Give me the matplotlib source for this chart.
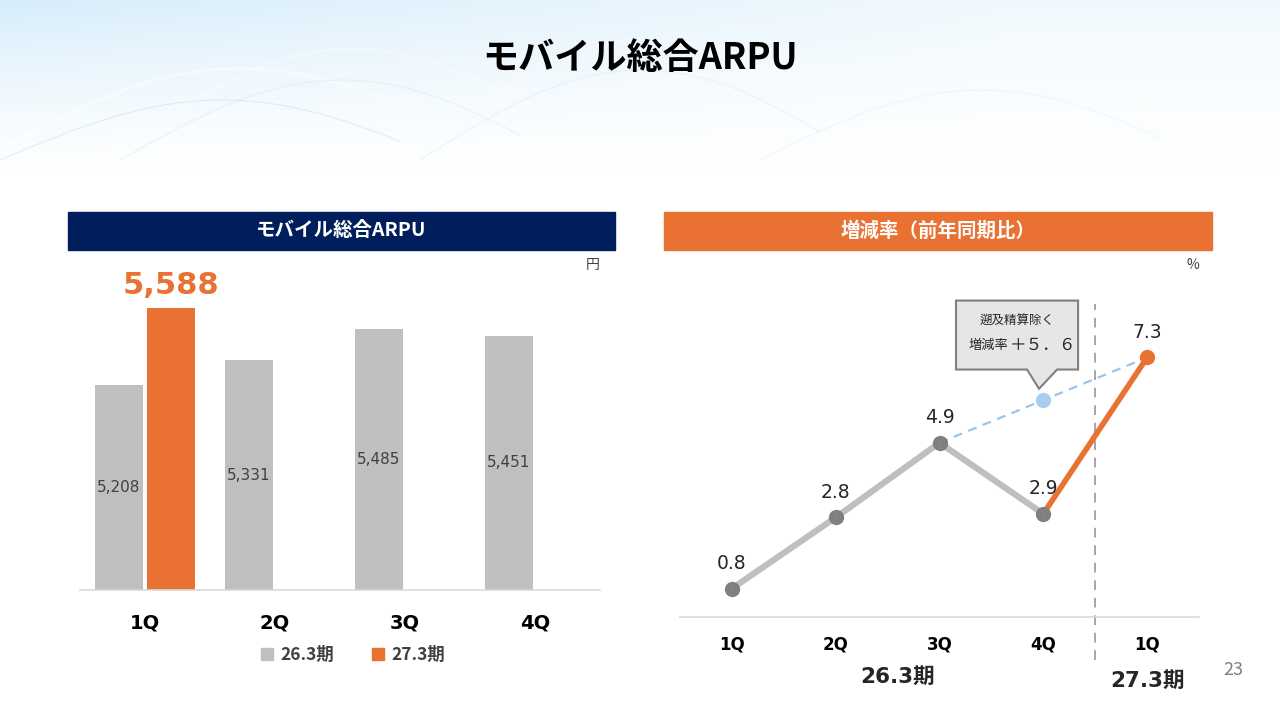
import numpy as np
import matplotlib
matplotlib.use("Agg")
import matplotlib.pyplot as plt
from matplotlib.patches import Rectangle, Polygon, Patch

plt.rcParams['font.family'] = ['Noto Sans CJK JP', 'DejaVu Sans']
LATIN = ['DejaVu Sans', 'Noto Sans CJK JP']

# data
quarters = ["1Q", "2Q", "3Q", "4Q"]
arpu_prev = [5208, 5331, 5485, 5451]      # 26.3期
arpu_curr = [5588]                        # 27.3期 (1Q only)
series_names = ["26.3期", "27.3期"]

rate_labels = ["1Q", "2Q", "3Q", "4Q", "1Q"]
rate_prev = [0.8, 2.8, 4.9, 2.9]          # 26.3期
rate_curr = 7.3                           # 27.3期 1Q
rate_adj_4q = 6.1                         # excluding retroactive settlement (light blue)
period_labels = ["26.3期", "27.3期"]

W, H = 1280, 720
NAVY = "#001e5b"
ORANGE = "#e97132"
GRAY = "#bfbfbf"
DARK = "#404040"


def px_rect(x0, y0, x1, y1):
    return [x0 / W, 1 - y1 / H, (x1 - x0) / W, (y1 - y0) / H]


fig = plt.figure(figsize=(12.8, 7.2), dpi=100)

# background wash at the top
bg = fig.add_axes([0, 0, 1, 1], zorder=-10)
yy, xx = np.mgrid[0:H, 0:W]
fade = np.clip(1 - yy / 175.0, 0, 1) ** 1.3
tint = fade * (0.35 + 0.65 * np.clip(1 - xx / 1000.0, 0, 1))
base = np.array([1.0, 1.0, 1.0])
blue = np.array([0.84, 0.93, 0.985])
img = base[None, None, :] * (1 - tint[..., None]) + blue[None, None, :] * tint[..., None]
bg.imshow(img, extent=[0, W, H, 0], aspect="auto")
t = np.linspace(0, 1, 200)
for x0, amp, a in [(0, 60, 0.45), (120, 80, 0.3), (420, 90, 0.25), (760, 70, 0.2)]:
    bg.plot(x0 + 420 * t, 150 - amp * np.sin(np.pi * t) - 40 * t, color="white", lw=2.5, alpha=a)
    bg.plot(x0 + 400 * t, 160 - amp * np.sin(np.pi * t * 0.9), color="#bcdcf2", lw=0.8, alpha=a)
bg.set_xlim(0, W)
bg.set_ylim(H, 0)
bg.axis("off")

# title
fig.text(640 / W, 1 - 58 / H, "モバイル総合ARPU", ha="center", va="center",
         fontsize=26, fontweight="bold", color="black")

# header bars
fig.patches.append(Rectangle((68 / W, 1 - 250 / H), (615 - 68) / W, 38 / H,
                             transform=fig.transFigure, color=NAVY, zorder=1))
fig.text((68 + 615) / 2 / W, 1 - 231 / H, "モバイル総合ARPU", ha="center", va="center",
         fontsize=14, fontweight="bold", color="white")
fig.patches.append(Rectangle((664 / W, 1 - 250 / H), (1212 - 664) / W, 38 / H,
                             transform=fig.transFigure, color=ORANGE, zorder=1))
fig.text((664 + 1212) / 2 / W, 1 - 231 / H, "増減率（前年同期比）", ha="center", va="center",
         fontsize=14, fontweight="bold", color="white")

# ---- left: bar chart
ax = fig.add_axes(px_rect(80, 265, 600, 590))
ax.patch.set_alpha(0)
x = np.arange(len(quarters))
bw, off = 0.37, 0.2
ymin = 4200
ax.bar(x - off, arpu_prev, width=bw, color=GRAY, zorder=2)
ax.bar(x[:1] + off, arpu_curr, width=bw, color=ORANGE, zorder=2)
for xi, v in zip(x - off, arpu_prev):
    ax.text(xi, (ymin + v) / 2, f"{v:,}", ha="center", va="center",
            fontsize=11, color=DARK, zorder=3, family=LATIN)
ax.annotate(f"{arpu_curr[0]:,}", (x[0] + off, arpu_curr[0]), xytext=(0, 16),
            textcoords="offset points", ha="center", va="center",
            fontsize=22, fontweight="bold", color=ORANGE, family=LATIN)
ax.set_xlim(-0.5, 3.5)
ax.set_ylim(ymin, 5800)
ax.set_yticks([])
ax.set_xticks(x, quarters, fontsize=14, fontweight="bold", family=LATIN)
ax.tick_params(axis="x", length=0, pad=17)
for s in ["top", "left", "right"]:
    ax.spines[s].set_visible(False)
ax.spines["bottom"].set_color("#d9d9d9")
ax.spines["bottom"].set_linewidth(1.2)
ax.text(1.0, 1.0, "円", transform=ax.transAxes, ha="right", va="center",
        fontsize=10, color=DARK)
leg = ax.legend(handles=[Patch(color=GRAY, label=series_names[0]),
                         Patch(color=ORANGE, label=series_names[1])],
                loc="center", bbox_to_anchor=(0.525, -0.2), ncol=2, frameon=False,
                handlelength=0.7, handleheight=0.7, handletextpad=0.4, columnspacing=2.2,
                prop={"size": 12.5, "weight": "bold"})
for txt in leg.get_texts():
    txt.set_color(DARK)

# ---- right: growth rate line chart
ax2 = fig.add_axes(px_rect(680, 265, 1199, 617))
ax2.patch.set_alpha(0)
xr = np.arange(len(rate_labels))
ax2.plot([xr[2], xr[3], xr[4]], [rate_prev[2], rate_adj_4q, rate_curr], ls=(0, (4, 3)),
         color="#9dc3e6", lw=1.6, zorder=2)
ax2.plot(xr[3], rate_adj_4q, "o", ms=11, color="#a9cdee", mec="none", zorder=3)
ax2.plot(xr[:4], rate_prev, color=GRAY, lw=4.5, zorder=3, solid_capstyle="round")
ax2.plot([xr[3], xr[4]], [rate_prev[3], rate_curr], color=ORANGE, lw=4, zorder=3,
         solid_capstyle="round")
ax2.plot(xr[:4], rate_prev, "o", ms=11, color="#7f7f7f", mec="none", zorder=4)
ax2.plot(xr[:4], rate_prev, "o", ms=1.5, color=ORANGE, mec="none", zorder=5)
ax2.plot(xr[4], rate_curr, "o", ms=11, color=ORANGE, mec="none", zorder=4)
for xi, v in zip(xr, rate_prev + [rate_curr]):
    ax2.annotate(f"{v:.1f}", (xi, v), xytext=(0, 18), textcoords="offset points",
                 ha="center", va="center", fontsize=13.5, color="#262626", family=LATIN)
ax2.axvline(3.5, ymin=-0.122, ymax=0.888, color="#a6a6a6", lw=1.4, ls=(0, (5, 4)),
            clip_on=False, zorder=1)
ax2.set_xlim(-0.5, 4.5)
ax2.set_ylim(0, 9.9)
ax2.set_yticks([])
ax2.set_xticks(xr, rate_labels, fontsize=12, fontweight="bold", family=LATIN)
ax2.tick_params(axis="x", length=0, pad=13)
for s in ["top", "left", "right"]:
    ax2.spines[s].set_visible(False)
ax2.spines["bottom"].set_color("#d9d9d9")
ax2.spines["bottom"].set_linewidth(1.2)
ax2.text(1.0, 1.0, "%", transform=ax2.transAxes, ha="right", va="center",
         fontsize=10, color=DARK)
ax2.annotate(period_labels[0], (1.6, 0), xycoords=("data", "axes fraction"),
             xytext=(0, -43), textcoords="offset points", ha="center", va="center",
             fontsize=15.5, fontweight="bold", color="#262626", annotation_clip=False,
             family=LATIN)
ax2.annotate(period_labels[1], (4, 0), xycoords=("data", "axes fraction"),
             xytext=(0, -46), textcoords="offset points", ha="center", va="center",
             fontsize=15.5, fontweight="bold", color="#262626", annotation_clip=False,
             family=LATIN)

# callout box
callout = Polygon([(2.159, 8.90), (3.335, 8.90), (3.335, 6.96), (3.133, 6.96),
                   (2.959, 6.42), (2.843, 6.96), (2.159, 6.96)], closed=True,
                  facecolor="#e6e6e6", edgecolor="#808080", lw=1.5, zorder=6, clip_on=False)
ax2.add_patch(callout)
ax2.text(2.75, 8.35, "遡及精算除く", ha="center", va="center", fontsize=9,
         color="#262626", zorder=7)
ax2.text(2.66, 7.65, "増減率", ha="right", va="center", fontsize=9.5,
         color="#262626", zorder=7)
ax2.text(2.68, 7.65, "＋５．６", ha="left", va="center", fontsize=12,
         color="#262626", zorder=7)

# page number
fig.text(1233 / W, 1 - 670 / H, "23", ha="center", va="center", fontsize=13, color="#7f7f7f")

fig.savefig("out.png", dpi=100)
